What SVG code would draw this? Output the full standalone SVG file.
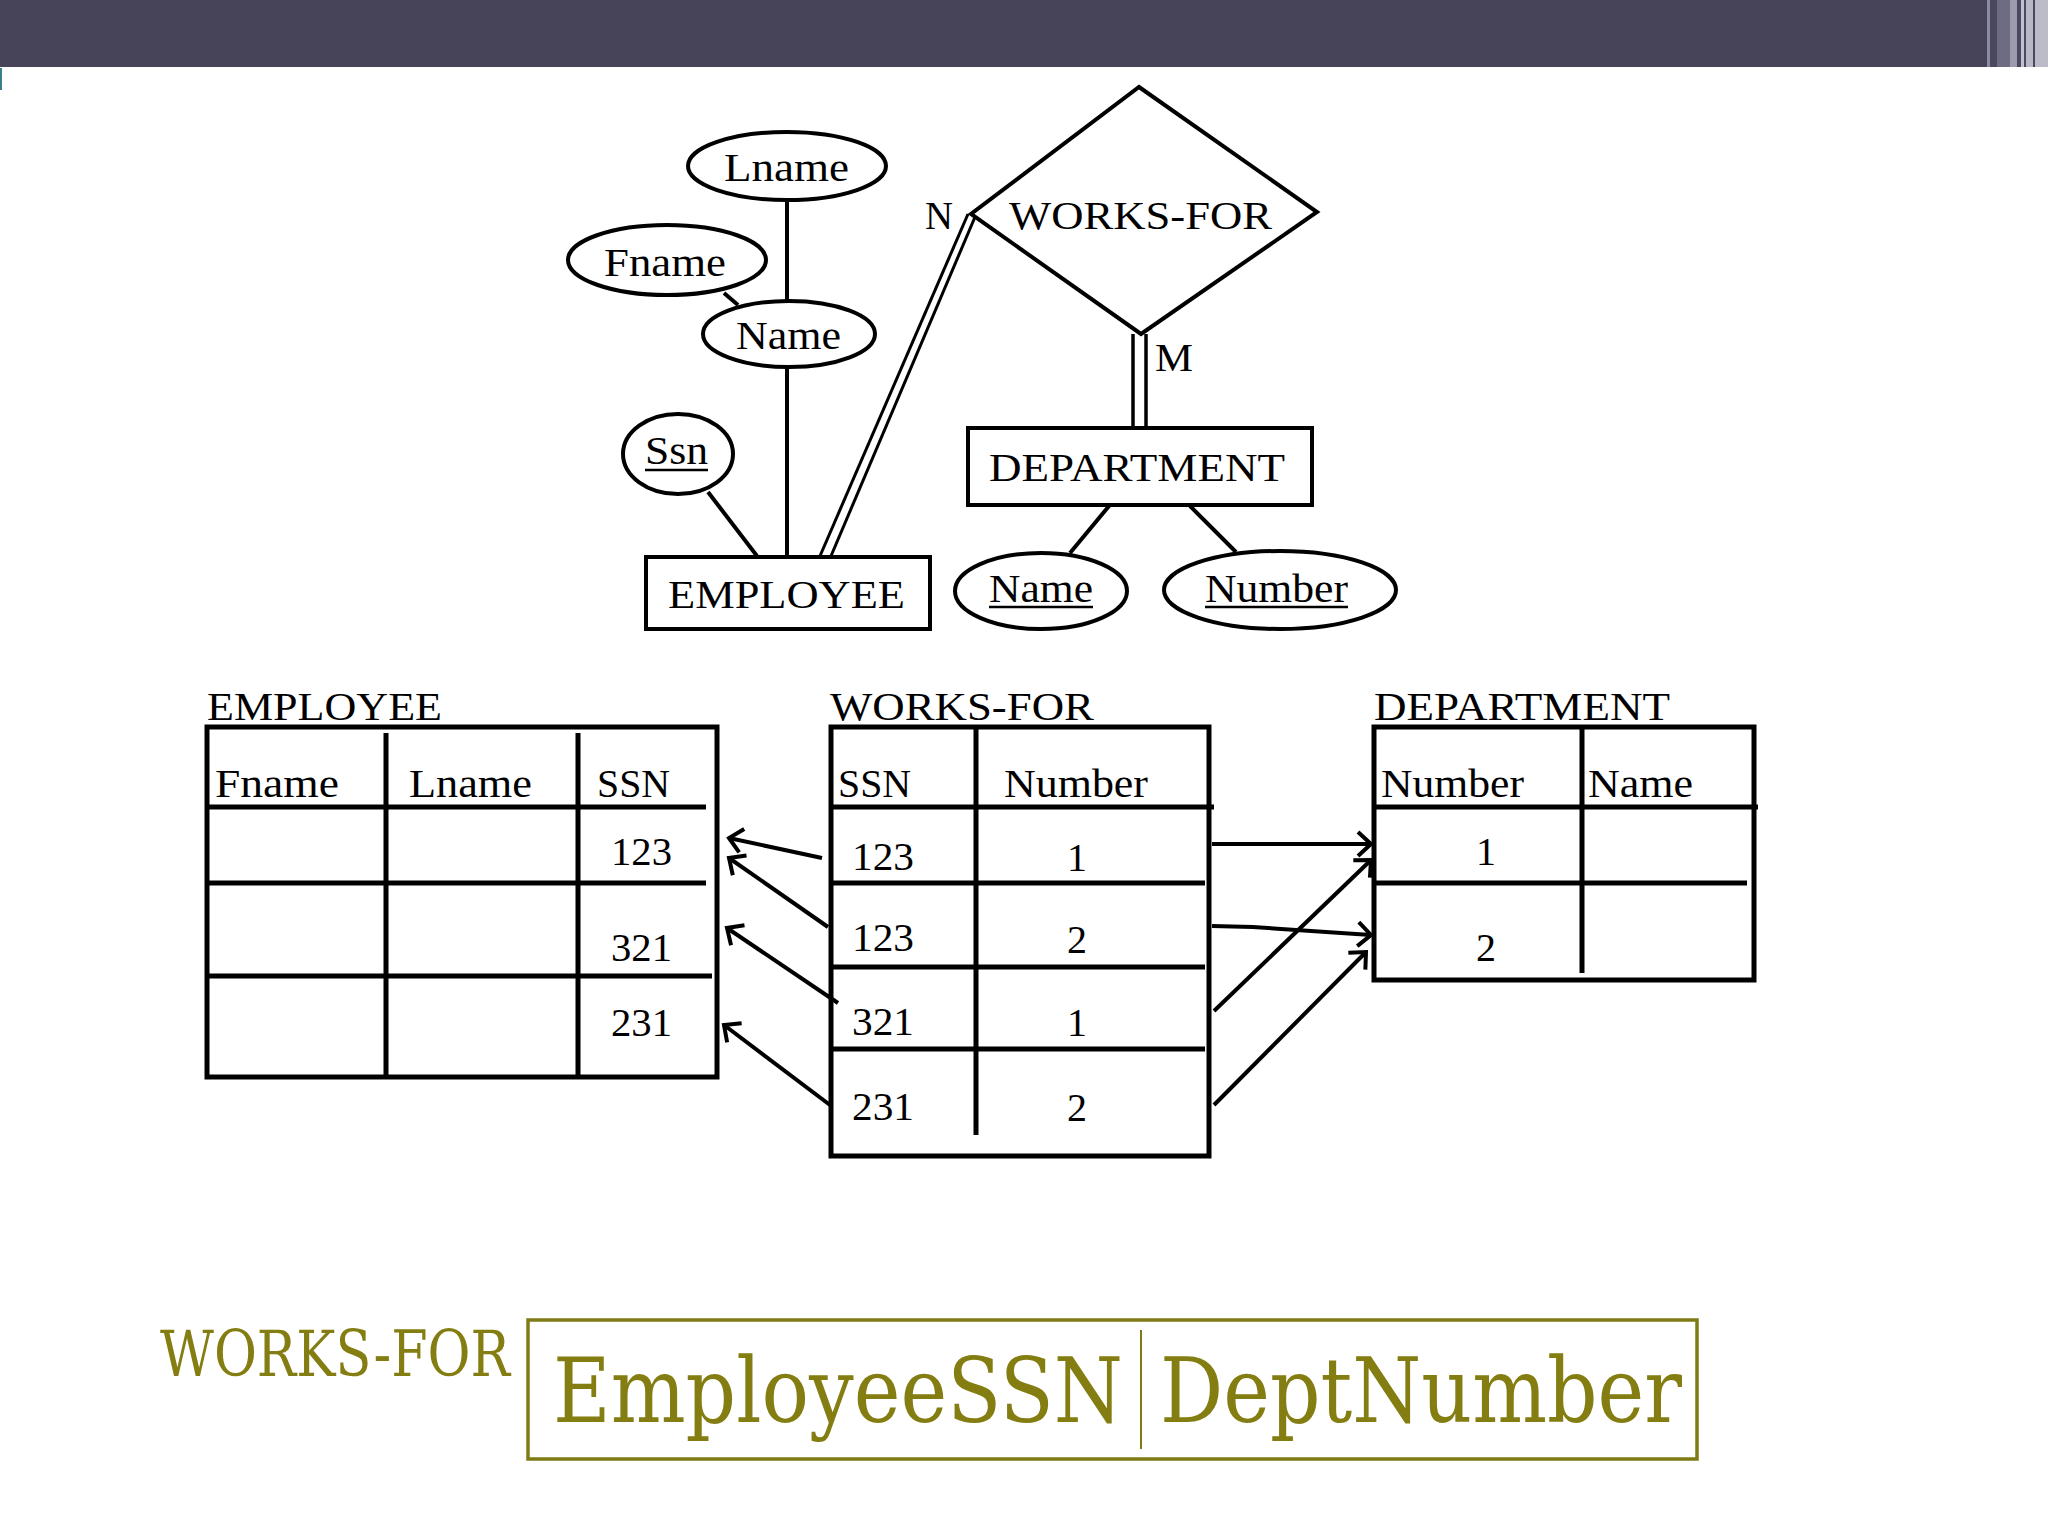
<svg xmlns="http://www.w3.org/2000/svg" width="2048" height="1536" viewBox="0 0 2048 1536">
<defs>
<style>
.t{font-family:"Liberation Serif","Times New Roman",serif;font-size:40px;fill:#000}
.ln{stroke:#000;stroke-width:4;fill:none}
.tb{stroke:#000;stroke-width:5;fill:none}
.sh{fill:#fff;stroke:#000;stroke-width:4}
.ol{fill:#847e12;font-family:"DejaVu Serif Condensed","DejaVu Serif","Liberation Serif",serif}
</style>
<marker id="ah" markerUnits="userSpaceOnUse" viewBox="-16 -16 20 32" refX="0" refY="0" markerWidth="20" markerHeight="32" orient="auto">
<path d="M-13,-12 L0,0 L-13,12" fill="none" stroke="#000" stroke-width="4"/>
</marker>
</defs>
<rect width="2048" height="1536" fill="#fff"/>
<g id="header">
<rect x="0" y="0" width="1988" height="67" fill="#474359"/>
<rect x="1987" y="0" width="3" height="67" fill="#8b8aa0"/>
<rect x="1990" y="0" width="7" height="67" fill="#4a4760"/>
<rect x="1997" y="0" width="13" height="67" fill="#6e6c82"/>
<rect x="2010" y="0" width="7" height="67" fill="#9c9bae"/>
<rect x="2017" y="0" width="4" height="67" fill="#4a4760"/>
<rect x="2021" y="0" width="3" height="67" fill="#c0bfcc"/>
<rect x="2024" y="0" width="2" height="67" fill="#4a4760"/>
<rect x="2026" y="0" width="7" height="67" fill="#b8b7c6"/>
<rect x="2033" y="0" width="2" height="67" fill="#4a4760"/>
<rect x="2035" y="0" width="13" height="67" fill="#bcbbc8"/>
<rect x="0" y="68" width="2" height="22" fill="#3d7f86"/>
</g>
<g id="connectors">
<line class="ln" x1="787" y1="200" x2="787" y2="301"/>
<line class="ln" x1="724" y1="293" x2="738" y2="305"/>
<line class="ln" x1="787" y1="367" x2="787" y2="556"/>
<line class="ln" x1="708" y1="492" x2="757" y2="556"/>
<line stroke="#000" stroke-width="3" x1="820" y1="556" x2="968" y2="214"/>
<line stroke="#000" stroke-width="3" x1="831" y1="556" x2="975" y2="217"/>
<line stroke="#000" stroke-width="3.5" x1="1133" y1="334" x2="1133" y2="428"/>
<line stroke="#000" stroke-width="3.5" x1="1146" y1="334" x2="1146" y2="428"/>
<line class="ln" x1="1109" y1="506" x2="1070" y2="553"/>
<line class="ln" x1="1190" y1="506" x2="1236" y2="552"/>
<line class="ln" x1="822" y1="858" x2="729" y2="838" marker-end="url(#ah)"/>
<line class="ln" x1="828" y1="927" x2="729" y2="858" marker-end="url(#ah)"/>
<line class="ln" x1="838" y1="1003" x2="727" y2="928" marker-end="url(#ah)"/>
<line class="ln" x1="830" y1="1105" x2="724" y2="1025" marker-end="url(#ah)"/>
<line class="ln" x1="1212" y1="844" x2="1371" y2="844" marker-end="url(#ah)"/>
<polyline class="ln" points="1212,926 1253,927 1371,935" marker-end="url(#ah)"/>
<line class="ln" x1="1214" y1="1011" x2="1371" y2="860" marker-end="url(#ah)"/>
<line class="ln" x1="1214" y1="1105" x2="1366" y2="952" marker-end="url(#ah)"/>
</g>
<g id="attr-lname"><ellipse class="sh" cx="787" cy="166" rx="99" ry="34"/><text class="t" x="724" y="181" textLength="125" lengthAdjust="spacingAndGlyphs">Lname</text></g>
<g id="attr-fname"><ellipse class="sh" cx="667" cy="260" rx="99" ry="35"/><text class="t" x="604" y="276" textLength="122" lengthAdjust="spacingAndGlyphs">Fname</text></g>
<g id="attr-name"><ellipse class="sh" cx="789" cy="334" rx="86" ry="33"/><text class="t" x="736" y="349" textLength="105" lengthAdjust="spacingAndGlyphs">Name</text></g>
<g id="attr-ssn"><ellipse class="sh" cx="678" cy="454" rx="55" ry="40"/><text class="t" x="645" y="464" textLength="63" lengthAdjust="spacingAndGlyphs">Ssn</text><line stroke="#000" stroke-width="2.5" x1="645" y1="470" x2="708" y2="470"/></g>
<g id="employee"><rect class="sh" x="646" y="557" width="284" height="72"/><text class="t" x="668" y="608" textLength="237" lengthAdjust="spacingAndGlyphs">EMPLOYEE</text></g>
<g id="works-for"><polygon class="sh" points="1139,87 1317,212 1141,334 971,214"/><text class="t" x="1009" y="229" textLength="263" lengthAdjust="spacingAndGlyphs">WORKS-FOR</text></g>
<g id="card-n"><text class="t" x="925" y="229" textLength="28" lengthAdjust="spacingAndGlyphs">N</text></g>
<g id="card-m"><text class="t" x="1155" y="371" textLength="38" lengthAdjust="spacingAndGlyphs">M</text></g>
<g id="department"><rect class="sh" x="968" y="428" width="344" height="77"/><text class="t" x="989" y="481" textLength="296" lengthAdjust="spacingAndGlyphs">DEPARTMENT</text></g>
<g id="attr-dname"><ellipse class="sh" cx="1041" cy="591" rx="86" ry="38"/><text class="t" x="989" y="602" textLength="104" lengthAdjust="spacingAndGlyphs">Name</text><line stroke="#000" stroke-width="2.5" x1="989" y1="607" x2="1093" y2="607"/></g>
<g id="attr-number"><ellipse class="sh" cx="1280" cy="590" rx="116" ry="39"/><text class="t" x="1205" y="602" textLength="143" lengthAdjust="spacingAndGlyphs">Number</text><line stroke="#000" stroke-width="2.5" x1="1205" y1="607" x2="1348" y2="607"/></g>
<g id="table-employee">
<text class="t" x="207" y="720" textLength="235" lengthAdjust="spacingAndGlyphs">EMPLOYEE</text>
<rect class="tb" x="207" y="727" width="510" height="350"/>
<line class="tb" x1="386" y1="733" x2="386" y2="1077"/>
<line class="tb" x1="578" y1="733" x2="578" y2="1077"/>
<line class="tb" x1="207" y1="807" x2="706" y2="807"/>
<line class="tb" x1="207" y1="883" x2="706" y2="883"/>
<line class="tb" x1="207" y1="976" x2="712" y2="976"/>
<text class="t" x="215" y="797" textLength="124" lengthAdjust="spacingAndGlyphs">Fname</text>
<text class="t" x="409" y="797" textLength="123" lengthAdjust="spacingAndGlyphs">Lname</text>
<text class="t" x="597" y="797" textLength="73" lengthAdjust="spacingAndGlyphs">SSN</text>
<text class="t" x="611" y="865" textLength="61" lengthAdjust="spacingAndGlyphs">123</text>
<text class="t" x="611" y="961" textLength="61" lengthAdjust="spacingAndGlyphs">321</text>
<text class="t" x="611" y="1036" textLength="61" lengthAdjust="spacingAndGlyphs">231</text>
</g>
<g id="table-works-for">
<text class="t" x="830" y="720" textLength="264" lengthAdjust="spacingAndGlyphs">WORKS-FOR</text>
<rect class="tb" x="831" y="727" width="378" height="429"/>
<line class="tb" x1="976" y1="727" x2="976" y2="1135"/>
<line class="tb" x1="831" y1="807" x2="1214" y2="807"/>
<line class="tb" x1="831" y1="883" x2="1205" y2="883"/>
<line class="tb" x1="831" y1="967" x2="1205" y2="967"/>
<line class="tb" x1="831" y1="1049" x2="1205" y2="1049"/>
<text class="t" x="838" y="797" textLength="73" lengthAdjust="spacingAndGlyphs">SSN</text>
<text class="t" x="1004" y="797" textLength="144" lengthAdjust="spacingAndGlyphs">Number</text>
<text class="t" x="852" y="870" textLength="62" lengthAdjust="spacingAndGlyphs">123</text>
<text class="t" x="852" y="951" textLength="62" lengthAdjust="spacingAndGlyphs">123</text>
<text class="t" x="852" y="1035" textLength="62" lengthAdjust="spacingAndGlyphs">321</text>
<text class="t" x="852" y="1120" textLength="62" lengthAdjust="spacingAndGlyphs">231</text>
<text class="t" x="1077" y="871" text-anchor="middle">1</text>
<text class="t" x="1077" y="953" text-anchor="middle">2</text>
<text class="t" x="1077" y="1036" text-anchor="middle">1</text>
<text class="t" x="1077" y="1121" text-anchor="middle">2</text>
</g>
<g id="table-department">
<text class="t" x="1374" y="720" textLength="296" lengthAdjust="spacingAndGlyphs">DEPARTMENT</text>
<rect class="tb" x="1374" y="727" width="380" height="253"/>
<line class="tb" x1="1582" y1="727" x2="1582" y2="973"/>
<line class="tb" x1="1374" y1="807" x2="1758" y2="807"/>
<line class="tb" x1="1374" y1="883" x2="1747" y2="883"/>
<text class="t" x="1381" y="797" textLength="143" lengthAdjust="spacingAndGlyphs">Number</text>
<text class="t" x="1588" y="797" textLength="105" lengthAdjust="spacingAndGlyphs">Name</text>
<text class="t" x="1486" y="865" text-anchor="middle">1</text>
<text class="t" x="1486" y="961" text-anchor="middle">2</text>
</g>
<g id="relation-schema">
<text class="ol" x="160" y="1376" font-size="64" textLength="350" lengthAdjust="spacingAndGlyphs">WORKS-FOR</text>
<rect x="528" y="1320" width="1169" height="139" fill="none" stroke="#7f7a14" stroke-width="3.5"/>
<line x1="1141" y1="1330" x2="1141" y2="1449" stroke="#7f7a14" stroke-width="2"/>
<text class="ol" x="553" y="1422" font-size="90" textLength="570" lengthAdjust="spacingAndGlyphs">EmployeeSSN</text>
<text class="ol" x="1160" y="1422" font-size="90" textLength="522" lengthAdjust="spacingAndGlyphs">DeptNumber</text>
</g>
</svg>
